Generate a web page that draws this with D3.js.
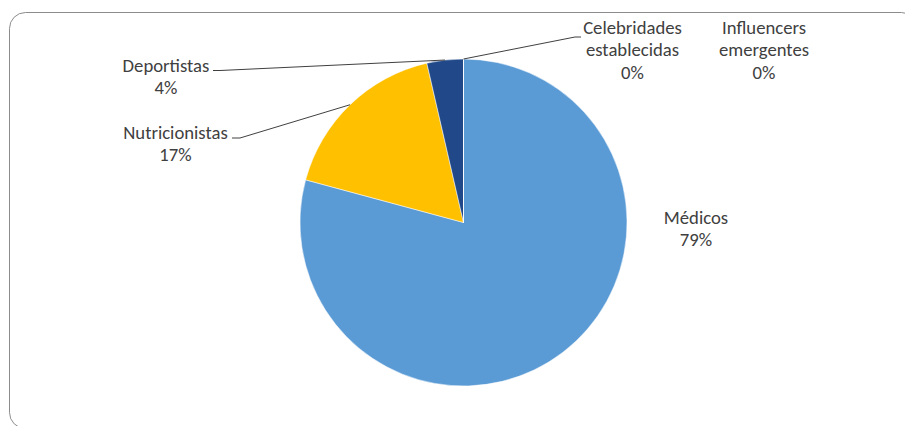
<!DOCTYPE html>
<html>
<head>
<meta charset="utf-8">
<script src="https://cdn.jsdelivr.net/npm/d3@7"></script>
<style>
  html, body { margin: 0; padding: 0; background: #ffffff; }
  svg { display: block; }
  text { font-family: Carlito, Calibri, Lato, "Open Sans", sans-serif; font-size: 18.7px; fill: #404040; }
</style>
</head>
<body>
<svg id="chart" width="905" height="426"></svg>
<script>
// Share of each source (percent)
const categories = ["Médicos", "Nutricionistas", "Deportistas", "Celebridades establecidas", "Influencers emergentes"];
const shares = [79.2, 17.2, 3.6, 0, 0];

// Slice colours, in category order
const sliceColors = ["#5B9BD5", "#FFC000", "#21498A", "#A5A5A5", "#4472C4"];

// Label placement: centre x, first baseline y, and where the leader line leaves the label
const labelLayout = [
  { x: 696, y: 223.5, leader: null },
  { x: 175.5, y: 138.5, leader: [[232, 138], [240, 138]] },
  { x: 166, y: 71.5, leader: [[213, 70.5], [220, 70.5]] },
  { x: 632.5, y: 33.5, leader: [[581, 37], [575, 37]] },
  { x: 764, y: 33.5, leader: null }
];

const cx = 463.5, cy = 222.5, radius = 163.5, lineGap = 22.8;

const svg = d3.select("#chart");

// Chart frame
svg.append("rect")
  .attr("x", 9.5).attr("y", 12.5)
  .attr("width", 908).attr("height", 416)
  .attr("rx", 16).attr("ry", 16)
  .attr("fill", "#ffffff")
  .attr("stroke", "#8c8c8c")
  .attr("stroke-width", 1);

const rows = categories.map((name, i) => ({ name, value: shares[i], color: sliceColors[i], layout: labelLayout[i] }));
const total = d3.sum(shares);

const pie = d3.pie().sort(null).value(d => d.value);
const arcs = pie(rows);
const arc = d3.arc().innerRadius(0).outerRadius(radius);

const g = svg.append("g").attr("transform", `translate(${cx},${cy})`);

g.selectAll("path.slice")
  .data(arcs)
  .join("path")
  .attr("class", "slice")
  .attr("d", arc)
  .attr("fill", d => d.data.color)
  .attr("stroke", "#ffffff")
  .attr("stroke-width", 0.5);

// Leader lines: from the label to the middle of the slice's outer edge
const edgePoint = d => {
  const a = (d.startAngle + d.endAngle) / 2;
  return [cx + radius * Math.sin(a), cy - radius * Math.cos(a)];
};

svg.append("g")
  .selectAll("path.leader")
  .data(arcs.filter(d => d.data.layout.leader))
  .join("path")
  .attr("class", "leader")
  .attr("d", d => d3.line()([...d.data.layout.leader, edgePoint(d)]))
  .attr("fill", "none")
  .attr("stroke", "#404040")
  .attr("stroke-width", 1);

// Data labels: category name (split by word) and rounded percentage
const labels = svg.append("g")
  .selectAll("text.label")
  .data(arcs)
  .join("text")
  .attr("class", "label")
  .attr("text-anchor", "middle")
  .attr("x", d => d.data.layout.x)
  .attr("y", d => d.data.layout.y);

labels.each(function (d) {
  const lines = d.data.name.split(" ").concat([Math.round(d.data.value / total * 100) + "%"]);
  d3.select(this).selectAll("tspan")
    .data(lines)
    .join("tspan")
    .attr("x", d.data.layout.x)
    .attr("dy", (t, i) => i === 0 ? 0 : lineGap)
    .text(t => t);
});
</script>
</body>
</html>
